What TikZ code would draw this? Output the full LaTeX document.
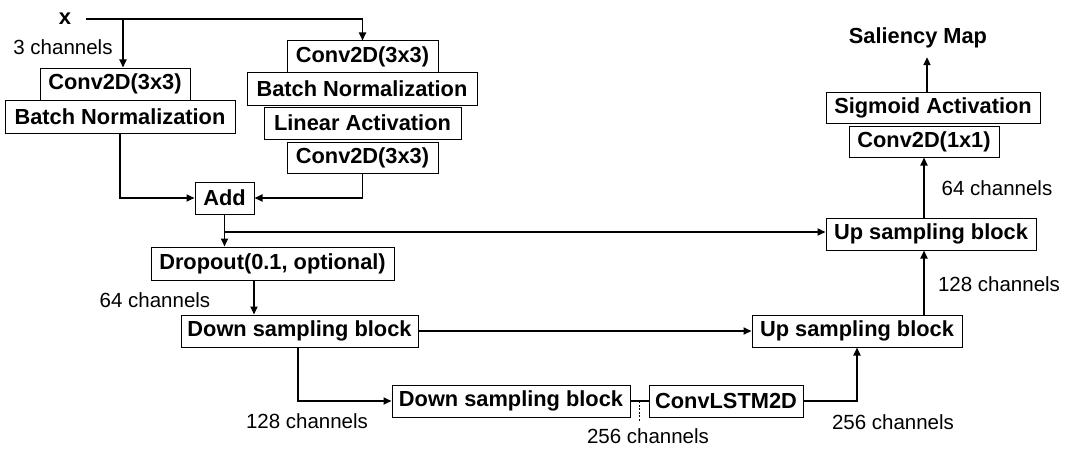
\documentclass[tikz,border=0pt]{standalone}
\usepackage{fontspec}
\setmainfont{Liberation Sans}
\usetikzlibrary{arrows.meta}
\tikzset{every node/.append style={font=\fontsize{20.5}{24}\selectfont}}
\tikzset{
  layer/.style={draw, line width=1pt, inner sep=0pt, minimum height=32pt,
    font=\fontsize{21.8}{24}\selectfont\bfseries},
  flow/.style={line width=1.8pt, -{Triangle[length=8pt,width=7pt]}},
  link/.style={line width=1.8pt},
}

\begin{document}
\begin{tikzpicture}[x=1pt, y=-1pt]
    \useasboundingbox (0,0) rectangle (1091,460);

    \node[font=\fontsize{22}{24}\selectfont\bfseries, minimum width=42pt, inner sep=0pt] (x) at (65,19) {x};
    \node[layer, minimum width=150pt] (convL) at (115,84) {Conv2D(3x3)};
    \node[layer, minimum width=230pt, minimum height=33pt] (bnL) at (120,116.5) {Batch Normalization};
    \node[layer, minimum width=151pt, minimum height=31pt] (convR1) at (362.5,56.5) {Conv2D(3x3)};
    \node[layer, minimum width=230pt, minimum height=33pt] (bnR) at (362,88.5) {Batch Normalization};
    \node[layer, minimum width=197pt] (lin) at (362.5,123) {Linear Activation};
    \node[layer, minimum width=151pt, minimum height=31pt] (convR2) at (362.5,157.5) {Conv2D(3x3)};
    \node[layer, minimum width=59pt] (add) at (224.5,198) {Add};
    \node[layer, minimum width=243pt, minimum height=33pt] (drop) at (272.5,263.5) {Dropout(0.1, optional)};
    \node[layer, minimum width=237pt] (down1) at (299.5,331) {Down sampling block};
    \node[layer, minimum width=238pt] (down2) at (511,401) {Down sampling block};
    \node[layer, minimum width=154pt] (lstm) at (726,401) {ConvLSTM2D};
    \node[layer, minimum width=210pt] (up2) at (857,331) {Up sampling block};
    \node[layer, minimum width=210pt] (up1) at (931,234) {Up sampling block};
    \node[layer, minimum width=150pt, minimum height=31pt] (conv11) at (924,141.5) {Conv2D(1x1)};
    \node[layer, minimum width=214pt, minimum height=31pt] (sig) at (933,107.5) {Sigmoid Activation};
    \node[font=\fontsize{21.8}{24}\selectfont\bfseries, minimum height=38pt, inner sep=0pt] (sal) at (918,38) {Saliency Map};

    \node (ch3) at (63,47) {3 channels};
    \node (ch64a) at (155,300) {64 channels};
    \node (ch128a) at (307,421) {128 channels};
    \node (ch256a) at (648,436) {256 channels};
    \node (ch256b) at (893,422) {256 channels};
    \node (ch128b) at (999,284) {128 channels};
    \node (ch64b) at (997,188) {64 channels};

    \coordinate (split) at (123,19);
    \coordinate (tap) at (224.5,232);
    \coordinate (tick) at (639,401);

    % encoder
    \draw[flow] (x.east) -| (convR1.north);
    \draw[flow] (split) -- (split |- convL.north);
    \draw[flow] (bnL.south) |- (add.west);
    \draw[flow] (convR2.south) |- (add.east);
    \draw[flow] (add.south) -- (add.south |- drop.north);
    \draw[flow] (tap) -- (tap -| up1.west);
    \draw[flow] ([xshift=-18.5pt]drop.south) -- ([xshift=-18.5pt]drop.south |- down1.north);
    \draw[flow] ([xshift=-1.5pt]down1.south) |- (down2.west);
    \draw[link] (down2.east) -- (lstm.west);
    \draw[dash pattern=on 2pt off 1.5pt, line width=0.8pt] (tick) -- ++(0,21);

    % decoder
    \draw[flow] (down1.east) -- (up2.west);
    \draw[flow] (lstm.east) -| (up2.south);
    \draw[flow] ([xshift=67pt]up2.north) -- ([xshift=67pt]up2.north |- up1.south);
    \draw[flow] (conv11.south |- up1.north) -- (conv11.south);
    \draw[flow] ([xshift=-6pt]sig.north) -- ([xshift=-6pt]sig.north |- sal.south);

\end{tikzpicture}
\end{document}
